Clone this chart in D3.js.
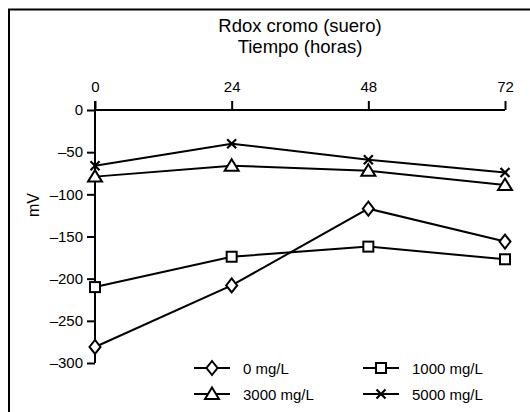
<!DOCTYPE html>
<html><head><meta charset="utf-8">
<script src="https://cdn.jsdelivr.net/npm/d3@7"></script>
<style>body{margin:0;background:#fff}svg{display:block}text{font-family:Arial,"Liberation Sans",sans-serif;fill:#000}</style>
</head><body>
<svg id="c" width="530" height="412"></svg>
<script>
const hours = [0, 24, 48, 72];
const xTicks = [0, 24, 48, 72];
const yTicks = [0, -50, -100, -150, -200, -250, -300];
const s0 = [-281, -208, -117, -156];
const s1000 = [-210, -174, -162, -177];
const s3000 = [-79, -66, -72, -89];
const s5000 = [-66, -40, -59, -74];
const seriesNames = ["0 mg/L", "1000 mg/L", "3000 mg/L", "5000 mg/L"];
const seriesVals = [s0, s1000, s3000, s5000];
const seriesMarks = ["diamond", "square", "triangle", "cross"];

const FONT = "Arial, 'Liberation Sans', sans-serif";
const svg = d3.select("#c");
svg.append("rect").attr("x", 9).attr("y", 9.5).attr("width", 530).attr("height", 420)
  .attr("fill", "none").attr("stroke", "#000").attr("stroke-width", 2);

const x = d3.scaleLinear().domain([0, 72]).range([95, 505]);
const y = d3.scaleLinear().domain([0, -300]).range([110, 363]);

svg.append("text").attr("x", 300).attr("y", 32).attr("text-anchor", "middle").style("font-size", "18.5px").text("Rdox cromo (suero)");
svg.append("text").attr("x", 300).attr("y", 52.5).attr("text-anchor", "middle").style("font-size", "18.5px").text("Tiempo (horas)");
svg.append("text").attr("transform", "translate(39,205) rotate(-90)").attr("text-anchor", "middle").style("font-size", "16px").text("mV");

const fmt = d => String(d).replace("-", "\u2013");
const xAxis = svg.append("g").attr("transform", `translate(0,${y(0)})`)
  .call(d3.axisTop(x).tickValues(xTicks).tickSize(9).tickPadding(9).tickFormat(fmt));
const yAxis = svg.append("g").attr("transform", `translate(${x(0)},0)`)
  .call(d3.axisLeft(y).tickValues(yTicks).tickSize(8).tickPadding(4).tickFormat(fmt));
[xAxis, yAxis].forEach(g => {
  g.attr("font-size", 15).attr("font-family", FONT);
  g.select(".domain").remove();
  g.selectAll("line").attr("stroke", "#000").attr("stroke-width", 2);
  g.selectAll("text").style("font-size", "15px").style("font-family", FONT).style("fill", "#000");
});

svg.append("line").attr("x1", x(0)).attr("x2", x(72)).attr("y1", y(0)).attr("y2", y(0)).attr("stroke", "#000").attr("stroke-width", 2);
svg.append("line").attr("x1", x(0)).attr("x2", x(0)).attr("y1", y(0) - 9).attr("y2", y(-300)).attr("stroke", "#000").attr("stroke-width", 2);

function marker(g, type, cx, cy) {
  const st = {fill: "#fff", stroke: "#000", "stroke-width": 2};
  let el;
  if (type === "diamond") {
    el = g.append("path").attr("d", `M${cx},${cy-7}L${cx+5.5},${cy}L${cx},${cy+7}L${cx-5.5},${cy}Z`);
  } else if (type === "square") {
    el = g.append("rect").attr("x", cx-5).attr("y", cy-5).attr("width", 10).attr("height", 10);
  } else if (type === "triangle") {
    el = g.append("path").attr("d", `M${cx},${cy-6.5}L${cx+7},${cy+5}L${cx-7},${cy+5}Z`);
  } else {
    el = g.append("path").attr("d", `M${cx-4.5},${cy-4.5}L${cx+4.5},${cy+4.5}M${cx+4.5},${cy-4.5}L${cx-4.5},${cy+4.5}`);
    st.fill = "none"; st["stroke-width"] = 2.2;
  }
  Object.entries(st).forEach(([k, v]) => el.attr(k, v));
}

const line = d3.line().x((d, i) => x(hours[i])).y(d => y(d));
seriesVals.forEach((vals, si) => {
  const g = svg.append("g");
  g.append("path").attr("d", line(vals)).attr("fill", "none").attr("stroke", "#000").attr("stroke-width", 2);
  vals.forEach((v, i) => marker(g, seriesMarks[si], x(hours[i]), y(v)));
});

const legPos = [[194, 368], [363, 368], [194, 394], [363, 394]];
seriesNames.forEach((name, si) => {
  const [lx, ly] = legPos[si];
  const g = svg.append("g");
  g.append("line").attr("x1", lx).attr("x2", lx + 36).attr("y1", ly).attr("y2", ly).attr("stroke", "#000").attr("stroke-width", 2);
  marker(g, seriesMarks[si], lx + 18, ly);
  g.append("text").attr("x", lx + 49).attr("y", ly + 5.5).style("font-size", "15px").text(name);
});
</script>
</body></html>
